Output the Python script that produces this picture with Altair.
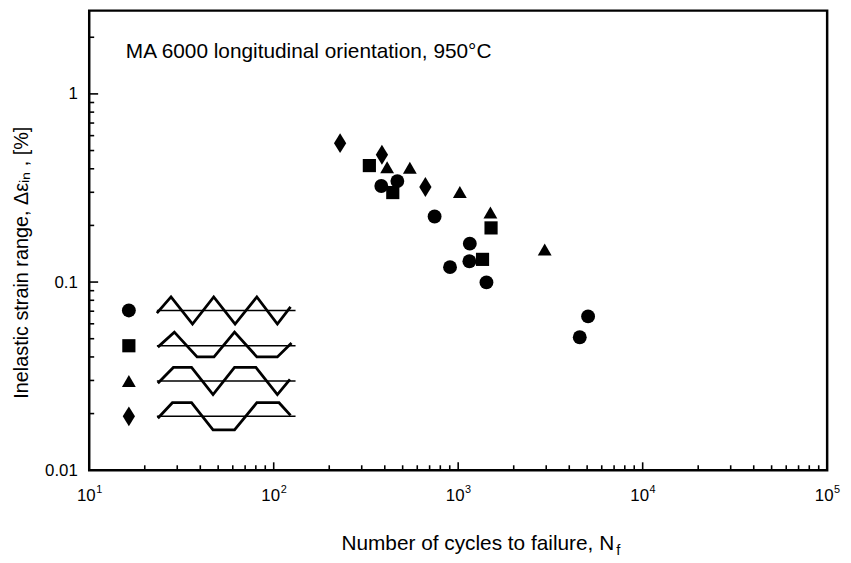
import math
import altair as alt
import pandas as pd

# ---------------- data ----------------
circle_N = [383, 468, 745, 903, 1150, 1156, 1423, 4560, 5060]
circle_eps = [0.324, 0.344, 0.223, 0.120, 0.129, 0.160, 0.0996, 0.0509, 0.0657]
square_N = [330, 442, 1355, 1507]
square_eps = [0.416, 0.299, 0.132, 0.194]
triangle_N = [412, 547, 1021, 1495, 2944]
triangle_eps = [0.408, 0.405, 0.301, 0.234, 0.149]
diamond_N = [229, 386, 664]
diamond_eps = [0.547, 0.475, 0.320]

series_names = ["circle", "square", "triangle", "diamond"]
DIAMOND = "M0,-1L0.62,0L0,1L-0.62,0Z"
series_shapes = ["circle", "square", "triangle-up", DIAMOND]
series_sizes = [196, 177, 196, 400]

x_tick_values = [10, 100, 1000, 10000, 100000]
x_tick_base = ["10", "10", "10", "10", "10"]
x_tick_exponents = ["1", "2", "3", "4", "5"]
y_tick_values = [0.01, 0.1, 1]
y_tick_labels = ["0.01", "0.1", "1"]
minor_mult = [2, 3, 4, 5, 6, 7, 8, 9]

# legend waveforms (time in arbitrary units, level: +1 tension, -1 compression)
wave_t = {
    "circle":   [0.0, 1.02, 2.57, 4.10, 5.64, 7.21, 8.69, 9.64],
    "square":   [0.07, 1.26, 2.90, 4.12, 5.60, 7.21, 8.69, 9.71],
    "triangle": [0.07, 1.19, 2.50, 4.05, 5.60, 7.14, 8.69, 9.60],
    "diamond":  [0.07, 1.12, 2.50, 4.05, 5.60, 7.21, 8.81, 9.64],
}
wave_lvl = {
    "circle":   [-0.2, 1, -1, 1, -1, 1, -1, 0.26],
    "square":   [-0.1, 1, -0.82, -0.82, 1, -0.82, -0.82, 0.2],
    "triangle": [-0.16, 1, 1, -1, 1, 1, -1, 0.12],
    "diamond":  [-0.14, 1, 1, -1, -1, 1, 1, 0.07],
}
baseline_span = [0.0, 10.0]
legend_symbol_t = -2.02
legend_row_gap = 2.6

annotation = "MA 6000 longitudinal orientation, 950\u00b0C"
x_title_main = "Number  of  cycles  to  failure,   N"
x_title_sub = "f"
y_title = "Inelastic   strain   range,   \u0394\u03b5\u1d62\u2099 ,   [%]"

# ---------------- layout ----------------
W, H = 745, 464
FONT = "Liberation Sans"

xs = alt.Scale(type="log", domain=[10, 1e5], nice=False)
ys = alt.Scale(type="log", domain=[0.01, 2.77], nice=False)


def label_expr(values, labels):
    expr = "''"
    for v, l in zip(reversed(values), reversed(labels)):
        expr = f"abs(log(datum.value)/LN10 - ({math.log10(v)})) < 0.01 ? '{l}' : ({expr})"
    return expr


y_axis = alt.Axis(values=y_tick_values, labelExpr=label_expr(y_tick_values, y_tick_labels),
                  ticks=False, tickSize=0, domain=False, grid=False,
                  labelPadding=12, labelFontSize=17, labelFont=FONT, labelColor="black",
                  title=y_title, titleFont=FONT, titleFontSize=20, titleFontWeight="normal",
                  titleColor="black", titleX=-58, titleY=254)

# points
rows = []
for name, Ns, es in [("circle", circle_N, circle_eps), ("square", square_N, square_eps),
                     ("triangle", triangle_N, triangle_eps), ("diamond", diamond_N, diamond_eps)]:
    for n, e in zip(Ns, es):
        rows.append({"N": n, "eps": e, "series": name})
pts = pd.DataFrame(rows)

layers = []
for name, shp, sz in zip(series_names, series_shapes, series_sizes):
    layers.append(
        alt.Chart(pts).transform_filter(alt.datum.series == name)
        .mark_point(filled=True, color="black", opacity=1, shape=shp, size=sz, strokeWidth=0)
        .encode(x=alt.X("N:Q", scale=xs, axis=None), y=alt.Y("eps:Q", scale=ys, axis=y_axis))
    )

# inward ticks
x_major = pd.DataFrame({"N": x_tick_values})
x_minor = pd.DataFrame({"N": [m * v for v in x_tick_values[:-1] for m in minor_mult]})
y_major = pd.DataFrame({"eps": y_tick_values})
y_minor = pd.DataFrame({"eps": [m * v for v in y_tick_values for m in minor_mult if m * v <= 2.77]})

layers.append(alt.Chart(x_major).mark_rule(color="black", strokeWidth=1.6).encode(
    x=alt.X("N:Q", scale=xs, axis=None), y=alt.value(H), y2=alt.value(H - 8)))
layers.append(alt.Chart(x_minor).mark_rule(color="black", strokeWidth=1.6).encode(
    x=alt.X("N:Q", scale=xs, axis=None), y=alt.value(H), y2=alt.value(H - 5)))
layers.append(alt.Chart(y_major).mark_rule(color="black", strokeWidth=1.6).encode(
    y=alt.Y("eps:Q", scale=ys, axis=y_axis), x=alt.value(0), x2=alt.value(9)))
layers.append(alt.Chart(y_minor).mark_rule(color="black", strokeWidth=1.6).encode(
    y=alt.Y("eps:Q", scale=ys, axis=y_axis), x=alt.value(0), x2=alt.value(5)))

# x tick labels: "10" with raised exponent
xlab = pd.DataFrame({"N": x_tick_values, "base": x_tick_base, "exp": x_tick_exponents})
layers.append(alt.Chart(xlab).mark_text(
    align="center", baseline="middle", font=FONT, fontSize=17, color="black", dx=-3).encode(
    x=alt.X("N:Q", scale=xs, axis=None), y=alt.value(H + 26.5), text="base:N"))
layers.append(alt.Chart(xlab).mark_text(
    align="left", baseline="middle", font=FONT, fontSize=11, color="black", dx=7).encode(
    x=alt.X("N:Q", scale=xs, axis=None), y=alt.value(H + 20), text="exp:N"))

# annotation & x title
layers.append(alt.Chart(pd.DataFrame({"t": [annotation]})).mark_text(
    align="left", baseline="middle", font=FONT, fontSize=21, color="black").encode(
    text="t:N", x=alt.value(37), y=alt.value(42)))
layers.append(alt.Chart(pd.DataFrame({"t": [x_title_main]})).mark_text(
    align="right", baseline="middle", font=FONT, fontSize=21, color="black").encode(
    text="t:N", x=alt.value(530), y=alt.value(539)))
layers.append(alt.Chart(pd.DataFrame({"t": [x_title_sub]})).mark_text(
    align="left", baseline="middle", font=FONT, fontSize=15, color="black").encode(
    text="t:N", x=alt.value(532), y=alt.value(545)))

main = alt.layer(*layers)

# ---------------- legend (own scales) ----------------
lx = alt.Scale(domain=[0, 10], range=[68.3, 208.3])
ly = alt.Scale(domain=[-8, 1], range=[412.3, 289.0])

wrows, brows, srows = [], [], []
for r, name in enumerate(series_names):
    off = -legend_row_gap * r
    for i, (t, l) in enumerate(zip(wave_t[name], wave_lvl[name])):
        wrows.append({"lt": t, "ly": l + off, "row": name, "i": i})
    brows.append({"lt": baseline_span[0], "lt2": baseline_span[1], "ly": off, "row": name})
    srows.append({"lt": legend_symbol_t, "ly": off, "series": name})
wdf, bdf, sdf = pd.DataFrame(wrows), pd.DataFrame(brows), pd.DataFrame(srows)

leg_layers = [
    alt.Chart(wdf).mark_line(color="black", strokeWidth=2.8, strokeJoin="miter").encode(
        x=alt.X("lt:Q", scale=lx, axis=None), y=alt.Y("ly:Q", scale=ly, axis=None),
        detail="row:N", order="i:Q"),
    alt.Chart(bdf).mark_rule(color="black", strokeWidth=1.5).encode(
        x=alt.X("lt:Q", scale=lx, axis=None), x2="lt2:Q", y=alt.Y("ly:Q", scale=ly, axis=None)),
]
for name, shp, sz in zip(series_names, series_shapes, series_sizes):
    leg_layers.append(
        alt.Chart(sdf).transform_filter(alt.datum.series == name)
        .mark_point(filled=True, color="black", opacity=1, shape=shp, size=sz, strokeWidth=0)
        .encode(x=alt.X("lt:Q", scale=lx, axis=None), y=alt.Y("ly:Q", scale=ly, axis=None))
    )
legend = alt.layer(*leg_layers)

chart = (
    alt.layer(main, legend)
    .resolve_scale(x="independent", y="independent")
    .properties(width=W, height=H, autosize=alt.AutoSizeParams(type="none"),
                padding={"left": 82, "top": 0, "right": 16, "bottom": 91},
                view=alt.ViewBackground(stroke="black", strokeWidth=2.5, fill="white"))
    .configure_view(stroke="black", strokeWidth=2.5)
    .configure(background="white")
)

chart.save("out.html", embed_options={"renderer": "svg", "actions": False})
